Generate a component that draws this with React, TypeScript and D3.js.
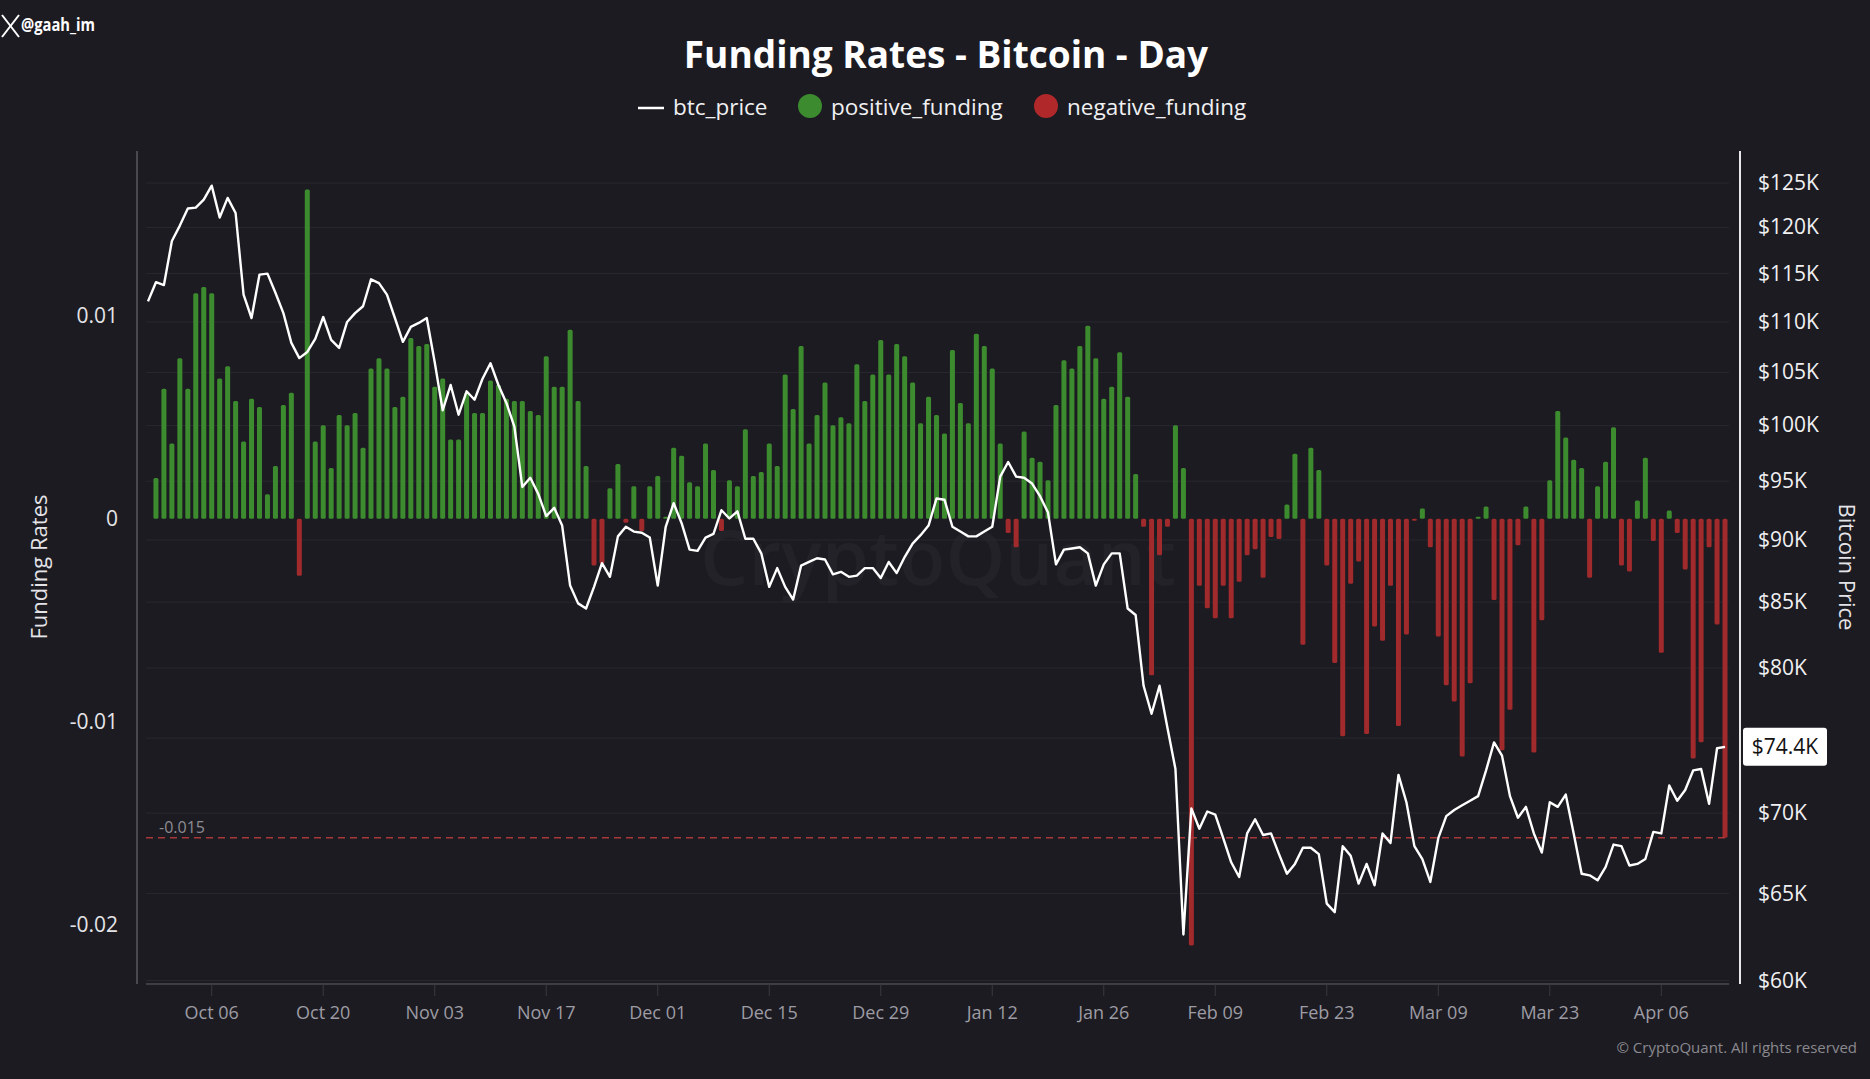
import * as d3 from 'd3';

// daily funding rate, Sep 29 2025 .. Apr 14 2026
const FUNDING: number[] = [
    0.0020, 0.0064, 0.0037, 0.0079, 0.0064, 0.0111, 0.0114, 0.0111, 0.0069, 0.0075,
    0.0058, 0.0038, 0.0059, 0.0055, 0.0012, 0.0026, 0.0056, 0.0062, -0.0028, 0.0162,
    0.0038, 0.0046, 0.0025, 0.0051, 0.0046, 0.0052, 0.0035, 0.0074, 0.0079, 0.0074,
    0.0055, 0.0060, 0.0089, 0.0085, 0.0086, 0.0065, 0.0069, 0.0039, 0.0039, 0.0062,
    0.0052, 0.0052, 0.0068, 0.0066, 0.0059, 0.0058, 0.0058, 0.0053, 0.0051, 0.0080,
    0.0065, 0.0065, 0.0093, 0.0058, 0.0026, -0.0023, -0.0022, 0.0015, 0.0027, -0.0002,
    0.0016, -0.0006, 0.0016, 0.0021, 0.0001, 0.0035, 0.0031, 0.0018, 0.0016, 0.0037,
    0.0024, -0.0006, 0.0019, 0.0016, 0.0044, 0.0021, 0.0023, 0.0037, 0.0026, 0.0071,
    0.0054, 0.0085, 0.0037, 0.0051, 0.0067, 0.0046, 0.0050, 0.0047, 0.0076, 0.0058,
    0.0071, 0.0088, 0.0071, 0.0086, 0.0080, 0.0067, 0.0047, 0.0060, 0.0051, 0.0042,
    0.0083, 0.0057, 0.0047, 0.0091, 0.0085, 0.0074, 0.0037, -0.0007, -0.0014, 0.0043,
    0.0030, 0.0028, 0.0019, 0.0056, 0.0078, 0.0074, 0.0085, 0.0095, 0.0079, 0.0059,
    0.0065, 0.0082, 0.0060, 0.0022, -0.0004, -0.0077, -0.0018, -0.0004, 0.0046, 0.0025,
    -0.0210, -0.0033, -0.0044, -0.0049, -0.0033, -0.0049, -0.0031, -0.0018, -0.0015, -0.0029,
    -0.0009, -0.0010, 0.0007, 0.0032, -0.0062, 0.0035, 0.0024, -0.0023, -0.0071, -0.0107,
    -0.0032, -0.0021, -0.0106, -0.0053, -0.0060, -0.0033, -0.0102, -0.0057, -0.0001, 0.0005,
    -0.0014, -0.0058, -0.0082, -0.0090, -0.0117, -0.0081, 0.0001, 0.0006, -0.0040, -0.0114,
    -0.0094, -0.0013, 0.0006, -0.0115, -0.0050, 0.0019, 0.0053, 0.0040, 0.0029, 0.0025,
    -0.0029, 0.0016, 0.0028, 0.0045, -0.0023, -0.0026, 0.0009, 0.0030, -0.0011, -0.0066,
    0.0004, -0.0007, -0.0025, -0.0118, -0.0110, -0.0014, -0.0052, -0.0157,
];

// btc close in $K, Sep 28 2025 .. Apr 14 2026
const PRICE: number[] = [
    112.1, 114.1, 113.8, 118.5, 120.2, 122.1, 122.2, 123.1, 124.7, 121.1,
    123.3, 121.6, 112.8, 110.4, 114.9, 115.0, 113.0, 110.9, 107.9, 106.4,
    107.0, 108.3, 110.5, 108.2, 107.4, 110.0, 110.9, 111.6, 114.4, 114.0,
    112.8, 110.4, 108.0, 109.5, 109.9, 110.4, 106.0, 101.4, 103.8, 101.0,
    103.2, 102.4, 104.4, 105.9, 103.8, 102.1, 99.9, 94.5, 95.3, 93.9,
    92.0, 92.7, 91.2, 86.3, 84.9, 84.5, 86.2, 88.1, 87.0, 90.3,
    91.1, 90.7, 90.6, 90.2, 86.3, 91.1, 93.1, 91.4, 89.2, 89.1,
    90.2, 90.5, 92.5, 91.8, 92.4, 90.1, 90.1, 88.9, 86.2, 87.7,
    86.2, 85.2, 87.9, 88.2, 88.5, 88.4, 87.2, 87.4, 87.0, 87.1,
    87.7, 87.7, 86.9, 88.2, 87.3, 88.6, 89.7, 90.4, 91.2, 93.5,
    93.4, 91.1, 90.7, 90.3, 90.3, 90.7, 91.1, 95.4, 96.7, 95.4,
    95.3, 94.8, 93.7, 92.3, 88.0, 89.2, 89.3, 89.4, 88.9, 86.3,
    88.0, 88.9, 88.9, 84.5, 84.0, 78.7, 76.7, 78.7, 75.7, 72.9,
    62.6, 70.3, 69.0, 70.1, 69.9, 68.4, 66.9, 66.0, 68.7, 69.6,
    68.6, 68.7, 67.4, 66.2, 66.8, 67.8, 67.8, 67.4, 64.4, 63.9,
    67.9, 67.3, 65.6, 66.8, 65.5, 68.7, 68.1, 72.5, 70.7, 67.9,
    67.1, 65.7, 68.4, 69.8, 70.2, 70.5, 70.8, 71.1, 72.8, 74.7,
    73.8, 71.1, 69.7, 70.4, 68.7, 67.5, 70.7, 70.4, 71.2, 68.7,
    66.2, 66.1, 65.8, 66.6, 68.0, 67.9, 66.7, 66.8, 67.1, 68.8,
    68.7, 71.8, 70.8, 71.5, 72.8, 72.9, 70.6, 74.3, 74.4,
];

const PRICE_START = '2025-09-28';
const FUNDING_START = '2025-09-29';

const X_TICKS = [
    '2025-10-06', '2025-10-20', '2025-11-03', '2025-11-17', '2025-12-01', '2025-12-15', '2025-12-29',
    '2026-01-12', '2026-01-26', '2026-02-09', '2026-02-23', '2026-03-09', '2026-03-23', '2026-04-06',
];
const FUNDING_TICKS = [0.01, 0, -0.01, -0.02];
const PRICE_TICKS = [60, 65, 70, 75, 80, 85, 90, 95, 100, 105, 110, 115, 120, 125];
const THRESHOLD = -0.0157;
const THRESHOLD_LABEL = '-0.015';

const W = 1870;
const H = 1079;
const LEFT = 146;
const RIGHT = 1729;
const TOP = 151;
const BOTTOM = 984;

const BG = '#1c1b21';
const GREEN = '#3d8b2f';
const RED = '#a02a2c';
const FONT = "'Open Sans', 'Noto Sans', sans-serif";

const parse = d3.utcParse('%Y-%m-%d');
const fmtTick = d3.utcFormat('%b %d');

export default function App() {
    const fStart = parse(FUNDING_START)!;
    const pStart = parse(PRICE_START)!;
    const fundingData = FUNDING.map((v, i) => ({ date: d3.utcDay.offset(fStart, i), v }));
    const priceData = PRICE.map((v, i) => ({ date: d3.utcDay.offset(pStart, i), v }));

    const x = d3.scaleUtc()
        .domain([d3.utcHour.offset(pStart, -6), d3.utcHour.offset(priceData[priceData.length - 1].date, 12)])
        .range([LEFT, RIGHT]);
    const yF = d3.scaleLinear().domain([-0.0229, 0.0181]).range([BOTTOM, TOP]);
    const yP = d3.scaleLog().domain([59.81, 128.74]).range([BOTTOM, TOP]);

    const line = d3.line<{ date: Date; v: number }>()
        .x(d => x(d.date))
        .y(d => yP(d.v));

    const last = priceData[priceData.length - 1];
    const yLast = yP(last.v);
    const zero = yF(0);
    const barW = 5;

    return (
        <div style={{ position: 'absolute', left: 0, top: 0, width: W, height: H }}>
            <svg width={W} height={H} style={{ display: 'block' }} fontFamily={FONT}>
                <rect width={W} height={H} fill={BG} />

                {/* watermark */}
                <text x={938} y={585} textAnchor="middle" fontSize={76} fontWeight={600} fill="#232228">
                    CryptoQuant
                </text>

                {/* grid at price ticks */}
                {PRICE_TICKS.map(t => (
                    <line key={t} x1={LEFT} x2={RIGHT} y1={yP(t)} y2={yP(t)} stroke="#29282f" strokeWidth={1} />
                ))}

                {/* funding bars */}
                {fundingData.map((d, i) => {
                    const y = yF(d.v);
                    return (
                        <rect
                            key={i}
                            x={x(d.date) - barW / 2}
                            y={d.v >= 0 ? y : zero}
                            width={barW}
                            height={Math.abs(y - zero)}
                            rx={1.5}
                            fill={d.v >= 0 ? GREEN : RED}
                        />
                    );
                })}

                {/* threshold */}
                <line x1={LEFT} x2={RIGHT} y1={yF(THRESHOLD)} y2={yF(THRESHOLD)}
                    stroke="#a8383a" strokeWidth={1.5} strokeDasharray="7 5" />
                <text x={159} y={yF(THRESHOLD) - 5} fontSize={16} fill="#8d8c93">{THRESHOLD_LABEL}</text>

                {/* price */}
                <path d={line(priceData) ?? ''} fill="none" stroke="#ffffff" strokeWidth={2.4} strokeLinejoin="round" />

                {/* axes */}
                <line x1={137} x2={137} y1={TOP} y2={BOTTOM} stroke="#4a4950" strokeWidth={2} />
                <line x1={1740} x2={1740} y1={TOP} y2={BOTTOM} stroke="#e8e8e8" strokeWidth={2} />
                <line x1={LEFT} x2={RIGHT} y1={BOTTOM} y2={BOTTOM} stroke="#4a4950" strokeWidth={1.5} />

                {X_TICKS.map(s => {
                    const d = parse(s)!;
                    const xx = x(d);
                    return (
                        <g key={s}>
                            <line x1={xx} x2={xx} y1={BOTTOM} y2={BOTTOM + 12} stroke="#3a3940" strokeWidth={1} />
                            <text x={xx} y={1019} textAnchor="middle" fontSize={18} fill="#9d9ca4">{fmtTick(d)}</text>
                        </g>
                    );
                })}

                {FUNDING_TICKS.map(t => (
                    <text key={t} x={118} y={yF(t) + 7} textAnchor="end" fontSize={21} fill="#e4e4e8">
                        {t === 0 ? '0' : String(t)}
                    </text>
                ))}

                {PRICE_TICKS.filter(t => Math.abs(yP(t) - yLast) > 20).map(t => (
                    <text key={t} x={1758} y={yP(t) + 7} fontSize={21} fill="#f0f0f2">${t}K</text>
                ))}

                {/* current price label */}
                <rect x={1743} y={yLast - 19} width={84} height={38} rx={3} fill="#ffffff" />
                <text x={1785} y={yLast + 7} textAnchor="middle" fontSize={21} fill="#111">
                    ${last.v.toFixed(1)}K
                </text>

                {/* axis titles */}
                <text transform="translate(47,567) rotate(-90)" textAnchor="middle" fontSize={22} fill="#e4e4e8">
                    Funding Rates
                </text>
                <text transform="translate(1839,567) rotate(90)" textAnchor="middle" fontSize={22} fill="#e4e4e8">
                    Bitcoin Price
                </text>

                {/* title + legend */}
                <text x={946} y={68} textAnchor="middle" fontSize={37} fontWeight={700} fill="#ffffff">
                    Funding Rates - Bitcoin - Day
                </text>
                <line x1={638} x2={664} y1={108} y2={108} stroke="#ffffff" strokeWidth={2.5} />
                <text x={673} y={115} fontSize={22.5} fill="#f0f0f2">btc_price</text>
                <circle cx={810} cy={106} r={12} fill={GREEN} />
                <text x={831} y={115} fontSize={22.5} fill="#f0f0f2">positive_funding</text>
                <circle cx={1046} cy={106} r={12} fill="#b0282a" />
                <text x={1067} y={115} fontSize={22.5} fill="#f0f0f2">negative_funding</text>

                {/* handle */}
                <g stroke="#ffffff" strokeWidth={2}>
                    <line x1={2} y1={15} x2={19} y2={37} />
                    <line x1={19} y1={15} x2={2} y2={37} />
                </g>
                <text x={21} y={31} fontSize={17} fontWeight={700} fill="#ffffff" textLength={74}
                    lengthAdjust="spacingAndGlyphs">@gaah_im</text>

                {/* footer */}
                <text x={1857} y={1053} textAnchor="end" fontSize={15} fill="#8a898f">
                    © CryptoQuant. All rights reserved
                </text>
            </svg>
        </div>
    );
}
